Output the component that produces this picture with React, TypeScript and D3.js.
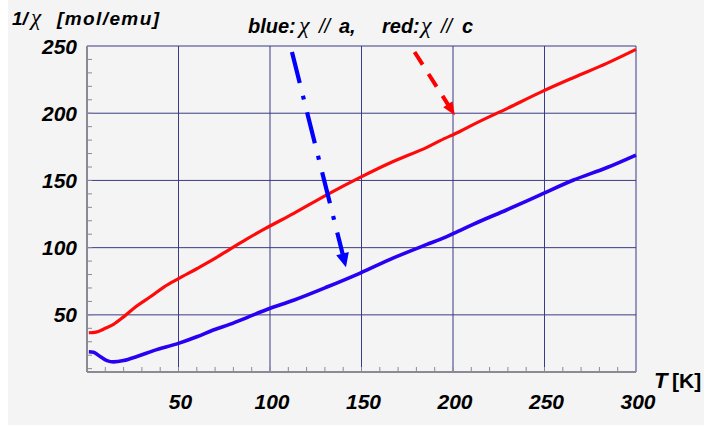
import React from "react";
import * as d3 from "d3";

// Temperature (K) and 1/chi (mol/emu)
const T_C = [1, 5, 10, 14.5, 20, 27, 35, 42, 50, 60, 69, 78, 87, 98, 113, 131, 149, 167, 186, 193, 204, 211, 230, 248, 266, 284, 300];
const INV_CHI_C = [36.7, 37.2, 40, 43, 48.5, 56.4, 63.8, 70.7, 76.9, 84.3, 91.2, 98.8, 106.2, 114.6, 125.5, 139.3, 152.1, 163.9, 174.8, 179.6, 186.6, 191.5, 203.8, 215.7, 226.6, 237.1, 247.5];

const T_A = [1, 3.6, 7.2, 10.9, 14.5, 20, 27.3, 36.4, 50, 60, 69, 78.3, 87.4, 98.3, 112.9, 131.1, 149.3, 167.5, 185.8, 193, 204, 211.3, 229.5, 247.7, 265.9, 284.2, 300];
const INV_CHI_A = [22.6, 22.2, 19, 16, 15, 16, 19, 23.4, 28.8, 33.7, 38.7, 43.1, 48, 54, 60.9, 70.7, 81.1, 92.4, 102.4, 106.2, 112.9, 117.5, 128.2, 139.3, 150.3, 159.6, 168.9];

const X_TICKS = [50, 100, 150, 200, 250, 300];
const Y_TICKS = [50, 100, 150, 200, 250];
const X_MINOR = d3.range(10, 300, 10);
const Y_MINOR = d3.range(10, 250, 10);

// annotation arrows in data coordinates: [T0, v0, T1, v1]
const ARROW_A = [112, 245.5, 141.5, 85.5];
const ARROW_C = [179, 245.5, 201, 198.5];

const W = 704;
const H = 427;
const GRID = "#3a3a86";
const AXIS = "#8a8a96";
const RED = "#ff0a0a";
const BLUE = "#2a00f2";
const SANS = "'Liberation Sans', Arial, Helvetica, sans-serif";
const SERIF = "'Liberation Serif', 'Times New Roman', serif";

function arrowHead(x0: number, y0: number, x1: number, y1: number, len: number, wid: number) {
  const a = Math.atan2(y1 - y0, x1 - x0);
  const bx = x1 - len * Math.cos(a);
  const by = y1 - len * Math.sin(a);
  const px = -Math.sin(a) * wid / 2;
  const py = Math.cos(a) * wid / 2;
  return `M${x1},${y1}L${bx + px},${by + py}L${bx - px},${by - py}Z`;
}

export default function App() {
  const x = d3.scaleLinear().domain([0, 300]).range([87, 636]);
  const y = d3.scaleLinear().domain([7.5, 250]).range([372, 46]);

  const line = d3
    .line<[number, number]>()
    .x((d) => x(d[0]))
    .y((d) => y(d[1]))
    .curve(d3.curveMonotoneX);

  const redPts = T_C.map((t, i) => [t, INV_CHI_C[i]] as [number, number]);
  const bluePts = T_A.map((t, i) => [t, INV_CHI_A[i]] as [number, number]);

  const [ax0, ay0, ax1, ay1] = [x(ARROW_A[0]), y(ARROW_A[1]), x(ARROW_A[2]), y(ARROW_A[3])];
  const [cx0, cy0, cx1, cy1] = [x(ARROW_C[0]), y(ARROW_C[1]), x(ARROW_C[2]), y(ARROW_C[3])];
  const shorten = (x0: number, y0: number, x1: number, y1: number, d: number) => {
    const L = Math.hypot(x1 - x0, y1 - y0);
    return [x1 - ((x1 - x0) * d) / L, y1 - ((y1 - y0) * d) / L];
  };
  const [aex, aey] = shorten(ax0, ay0, ax1, ay1, 10);
  const [cex, cey] = shorten(cx0, cy0, cx1, cy1, 9);

  const x0 = x(0);
  const yb = y(7.5);

  const boldIt = { fontFamily: SANS, fontWeight: "bold" as const, fontStyle: "italic" as const, fill: "#000" };

  return (
    <svg
      width={W}
      height={H}
      style={{ position: "absolute", left: 0, top: 0 }}
      xmlns="http://www.w3.org/2000/svg"
    >
      <rect x={0} y={0} width={W} height={H} fill="#ffffff" />
      <rect x={8} y={0} width={W - 8} height={425} fill="#f4f4f4" />

      {/* grid */}
      {X_TICKS.map((t) => (
        <line key={"gx" + t} x1={x(t)} x2={x(t)} y1={y(250)} y2={yb} stroke={GRID} strokeWidth={1} />
      ))}
      {Y_TICKS.map((v) => (
        <line key={"gy" + v} x1={x0} x2={x(300)} y1={y(v)} y2={y(v)} stroke={GRID} strokeWidth={1} />
      ))}

      {/* minor ticks */}
      {X_MINOR.map((t) => (
        <line key={"mx" + t} x1={x(t)} x2={x(t)} y1={yb} y2={yb - 5} stroke={AXIS} strokeWidth={1} />
      ))}
      {Y_MINOR.map((v) => (
        <line key={"my" + v} x1={x0} x2={x0 + 5} y1={y(v)} y2={y(v)} stroke={AXIS} strokeWidth={1} />
      ))}

      {/* axes */}
      <line x1={x0} x2={x0} y1={y(250)} y2={yb} stroke={AXIS} strokeWidth={2} />
      <line x1={x0} x2={x(300)} y1={yb} y2={yb} stroke={AXIS} strokeWidth={2} />

      {/* curves */}
      <path d={line(redPts) || ""} fill="none" stroke={RED} strokeWidth={3.2} strokeLinejoin="round" />
      <path d={line(bluePts) || ""} fill="none" stroke={BLUE} strokeWidth={3.6} strokeLinejoin="round" />

      {/* arrows */}
      <line x1={ax0} y1={ay0} x2={aex} y2={aey} stroke="#0000ff" strokeWidth={4.2} strokeDasharray="32,13,4,13" />
      <path d={arrowHead(ax0, ay0, ax1, ay1, 14, 13)} fill="#0000ff" />
      <line x1={cx0} y1={cy0} x2={cex} y2={cey} stroke="#ff0000" strokeWidth={4} strokeDasharray="15,11" />
      <path d={arrowHead(cx0, cy0, cx1, cy1, 13, 11)} fill="#ff0000" />

      {/* y tick labels */}
      {Y_TICKS.map((v) => (
        <text key={"ly" + v} x={77} y={y(v) + 7.5} textAnchor="end" fontSize={21} {...boldIt}>
          {v}
        </text>
      ))}
      {/* x tick labels */}
      {X_TICKS.map((t) => (
        <text key={"lx" + t} x={x(t) + 2} y={408.5} textAnchor="middle" fontSize={21} {...boldIt}>
          {t}
        </text>
      ))}

      {/* axis titles */}
      <text x={12} y={25} fontSize={19} {...boldIt}>1/</text>
      <text x={31} y={25} fontFamily={SERIF} fontStyle="italic" fontSize={23} fill="#000">χ</text>
      <text x={57} y={25} fontSize={19} {...boldIt} textLength={102} lengthAdjust="spacing">[mol/emu]</text>

      <text x={654} y={388} fontSize={22} {...boldIt}>T</text>
      <text x={672} y={388} fontFamily={SANS} fontWeight="bold" fontSize={21} fill="#000">[K]</text>

      {/* legend */}
      <text x={248} y={33} fontSize={20} {...boldIt}>blue:</text>
      <text x={299} y={33} fontFamily={SERIF} fontStyle="italic" fontSize={24} fill="#000">χ</text>
      <text x={319} y={33} fontFamily={SANS} fontStyle="italic" fontSize={20} fill="#000">//</text>
      <text x={339} y={33} fontSize={20} {...boldIt}>a,</text>
      <text x={382} y={33} fontSize={20} {...boldIt}>red:</text>
      <text x={421} y={33} fontFamily={SERIF} fontStyle="italic" fontSize={24} fill="#000">χ</text>
      <text x={441} y={33} fontFamily={SANS} fontStyle="italic" fontSize={20} fill="#000">//</text>
      <text x={462} y={33} fontSize={20} {...boldIt}>c</text>
    </svg>
  );
}
